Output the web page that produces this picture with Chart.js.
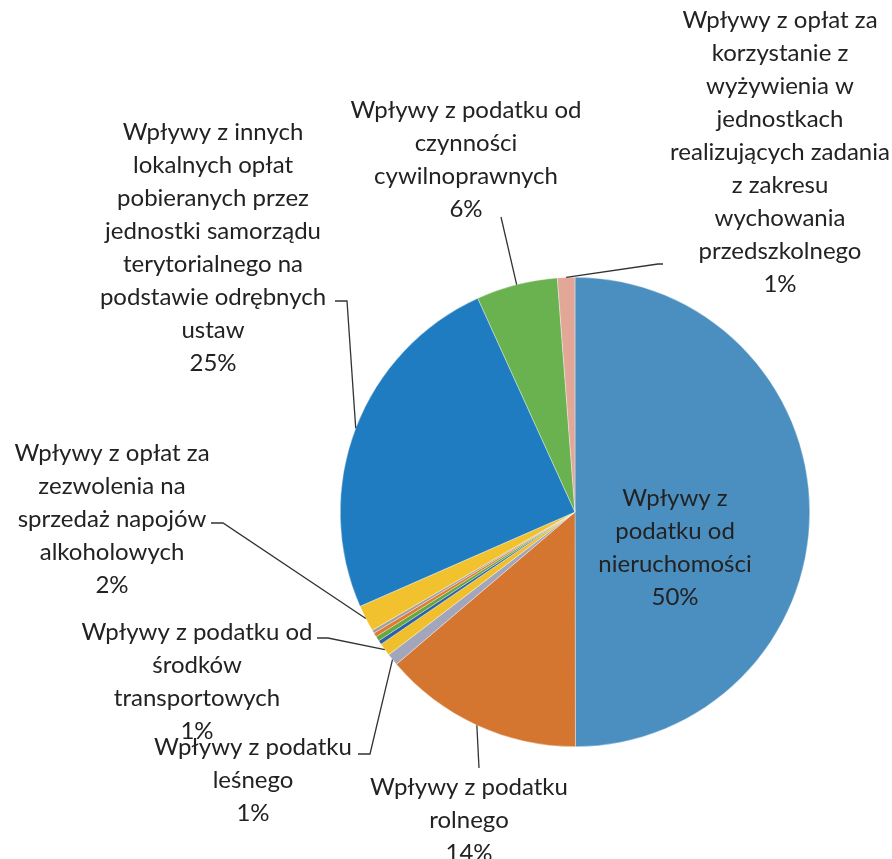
<!DOCTYPE html>
<html lang="pl">
<head>
<meta charset="utf-8">
<title>Struktura wpływów</title>
<script src="https://cdn.jsdelivr.net/npm/chart.js@4/dist/chart.umd.min.js"></script>
<style>
  body { margin: 0; background: #fff; }
  #wrap { width: 892px; height: 859px; }
</style>
</head>
<body>
<div id="wrap"><canvas id="myChart" width="892" height="859"></canvas></div>
<script>
// Kategorie (łamanie linii jak na wykresie)
const kategorie = [
  'Wpływy z\npodatku od\nnieruchomości',
  'Wpływy z podatku\nrolnego',
  'Wpływy z podatku\nleśnego',
  'Wpływy z podatku od\nśrodków\ntransportowych',
  '', '', '', '',
  'Wpływy z opłat za\nzezwolenia na\nsprzedaż napojów\nalkoholowych',
  'Wpływy z innych\nlokalnych opłat\npobieranych przez\njednostki samorządu\nterytorialnego na\npodstawie odrębnych\nustaw',
  'Wpływy z podatku od\nczynności\ncywilnoprawnych',
  'Wpływy z opłat za\nkorzystanie z\nwyżywienia w\njednostkach\nrealizujących zadania\nz zakresu\nwychowania\nprzedszkolnego'
];

// Udział procentowy
const wartosci = [50.0, 13.8, 0.83, 0.89, 0.28, 0.33, 0.28, 0.22, 1.83, 24.8, 5.6, 1.2];

const kolory = [
  '#4b8fc0', '#d4762f', '#a3a6bb', '#f0c02c',
  '#2f5fa5', '#62a843', '#e07b2e', '#a0a0a0',
  '#f2c22e', '#1f7cc0', '#6ab150', '#e2a797'
];

// Położenie etykiet i linii odniesienia
const etykiety = [
  { i: 0, x: 675, y: 498 },
  { i: 1, x: 469, y: 787, linia: [[479, 768]] },
  { i: 2, x: 253, y: 747, linia: [[370, 754], [358, 754]] },
  { i: 3, x: 197, y: 632, linia: [[328, 638], [317, 638]] },
  { i: 8, x: 112, y: 453, linia: [[223, 523], [211, 523]] },
  { i: 9, x: 213, y: 132, linia: [[347, 301], [335, 301]] },
  { i: 10, x: 466, y: 110, linia: [[501, 217]] },
  { i: 11, x: 780, y: 20, linia: [[658, 264], [663, 264]] }
];

const wysokoscLinii = 33;
const czcionka = '24px Lato';

const suma = wartosci.reduce((a, b) => a + b, 0);

// Plugin rysujący etykiety z liniami
const etykietyPlugin = {
  id: 'etykiety',
  afterDraw(chart) {
    const ctx = chart.ctx;
    const meta = chart.getDatasetMeta(0);
    ctx.save();
    etykiety.forEach(e => {
      const arc = meta.data[e.i];
      if (e.linia) {
        const mid = (arc.startAngle + arc.endAngle) / 2;
        ctx.beginPath();
        ctx.moveTo(arc.x + Math.cos(mid) * arc.outerRadius, arc.y + Math.sin(mid) * arc.outerRadius);
        e.linia.forEach(p => ctx.lineTo(p[0], p[1]));
        ctx.strokeStyle = '#333';
        ctx.lineWidth = 1.3;
        ctx.stroke();
      }
      const linie = kategorie[e.i].split('\n');
      linie.push(Math.round(wartosci[e.i] / suma * 100) + '%');
      ctx.font = czcionka;
      ctx.fillStyle = '#222';
      ctx.textAlign = 'center';
      ctx.textBaseline = 'middle';
      linie.forEach((t, k) => ctx.fillText(t, e.x, e.y + k * wysokoscLinii));
    });
    ctx.restore();
  }
};

const ctx = document.getElementById('myChart').getContext('2d');

const myChart = new Chart(ctx, {
  type: 'pie',
  data: {
    labels: kategorie,
    datasets: [{
      data: wartosci,
      backgroundColor: kolory,
      borderColor: 'rgba(255,255,255,0.7)',
      borderWidth: 0.5
    }]
  },
  options: {
    responsive: false,
    animation: false,
    layout: { padding: { left: 340, right: 82, top: 277, bottom: 112 } },
    plugins: {
      legend: { display: false },
      tooltip: { enabled: false }
    }
  },
  plugins: [etykietyPlugin]
});
</script>
</body>
</html>
